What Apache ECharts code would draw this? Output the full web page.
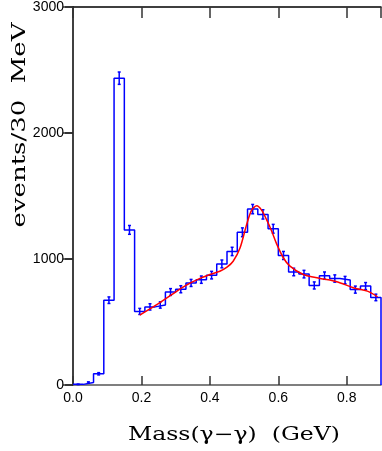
<!DOCTYPE html>
<html><head><meta charset="utf-8">
<script src="https://cdn.jsdelivr.net/npm/echarts@6/dist/echarts.min.js"></script>
<style>html,body{margin:0;padding:0;background:#fff}#c{width:382px;height:451px}</style>
</head><body><div id="c"></div>
<script>
// ---- data ----
const binWidth = 0.03;
const binLow = [0.00,0.03,0.06,0.09,0.12,0.15,0.18,0.21,0.24,0.27,0.30,0.33,0.36,0.39,0.42,0.45,0.48,0.51,0.54,0.57,0.60,0.63,0.66,0.69,0.72,0.75,0.78,0.81,0.84,0.87];
const counts = [5,20,89,673,2435,1231,584,620,635,738,760,810,836,872,961,1060,1212,1396,1354,1240,1028,897,880,790,868,845,833,757,785,695];
const errors = [2,5,9,26,49,35,24,25,25,27,28,28,29,30,31,33,35,37,37,35,32,30,30,28,29,29,29,28,28,26];
const fitX = [0.195,0.24,0.283,0.33,0.371,0.40,0.429,0.45,0.468,0.488,0.507,0.522,0.537,0.551,0.566,0.581,0.595,0.615,0.634,0.673,0.722,0.771,0.819,0.86,0.89];
const fitY = [555,630,707,790,846,877,903,935,982,1087,1270,1388,1422,1388,1310,1218,1120,1008,943,877,846,820,772,745,700];
const xTickLabels = ['0.0','0.2','0.4','0.6','0.8'];
const yTickLabels = ['0','1000','2000','3000'];
const xTitle = 'Mass(\u03b3\u2212\u03b3)  (GeV)';
const yTitle = 'events/30  MeV';

// ---- build ----
const xMax = binLow[binLow.length-1] + binWidth;
const histData = binLow.map((x,i)=>[x, counts[i]]);
histData.push([xMax, 0]);
const errData = binLow.map((x,i)=>[x + binWidth/2, counts[i], errors[i]]);
const fitData = fitX.map((x,i)=>[x, fitY[i]]);

const titleFont = '18px "DejaVu Serif", serif';
const mctx = document.createElement('canvas').getContext('2d');
mctx.font = titleFont;
const xTitleScale = 212 / mctx.measureText(xTitle).width;
const yTitleScale = 205 / mctx.measureText(yTitle).width;

const chart = echarts.init(document.getElementById('c'), null, {renderer:'canvas'});
const tickFont = {fontFamily:'Liberation Sans, Arial, sans-serif', fontSize:14, color:'#000'};
chart.setOption({
  animation:false,
  backgroundColor:'#fff',
  grid:{left:73, right:1, top:4, bottom:66},
  xAxis:[{
    type:'value', min:0, max:xMax, interval:0.2, position:'bottom',
    axisLine:{show:true, onZero:false, lineStyle:{color:'#555', width:1.5}},
    axisTick:{show:true, inside:true, length:9, lineStyle:{color:'#333', width:1.5}},
    axisLabel:Object.assign({margin:6, showMaxLabel:false,
      formatter:(v)=>{const i=Math.round(v/0.2); return Math.abs(v-i*0.2)<1e-6 && i<xTickLabels.length ? xTickLabels[i] : '';}}, tickFont),
    splitLine:{show:false}
  },{
    type:'value', min:0, max:xMax, interval:0.2, position:'top',
    axisLine:{show:true, onZero:false, lineStyle:{color:'#000', width:1.5}},
    axisTick:{show:true, inside:true, length:11, lineStyle:{color:'#333', width:1.5}},
    axisLabel:{show:false}, splitLine:{show:false}
  }],
  yAxis:[{
    type:'value', min:0, max:3000, interval:1000, position:'left',
    axisLine:{show:true, onZero:false, lineStyle:{color:'#000', width:1.5}},
    axisTick:{show:true, inside:false, length:8, lineStyle:{color:'#000', width:1.5}},
    axisLabel:Object.assign({margin:9, formatter:(v)=>yTickLabels[Math.round(v/1000)]}, tickFont),
    splitLine:{show:false}
  },{
    type:'value', min:0, max:3000, interval:1000, position:'right',
    axisLine:{show:false},
    axisTick:{show:true, inside:true, length:10, lineStyle:{color:'#333', width:1.5}},
    axisLabel:{show:false}, splitLine:{show:false}
  }],
  graphic:[{
    type:'text', x:20, y:125, rotation:Math.PI/2, scaleX:yTitleScale,
    style:{text:yTitle, font:titleFont, fill:'#000', align:'center', verticalAlign:'middle'}
  },{
    type:'text', x:234, y:435, scaleX:xTitleScale,
    style:{text:xTitle, font:titleFont, fill:'#000', align:'center', verticalAlign:'middle'}
  }],
  series:[{
    type:'line', data:histData, step:'end', symbol:'none',
    lineStyle:{color:'#0000ff', width:1.5}, z:3
  },{
    type:'custom', data:errData, z:4,
    renderItem:(params, api)=>{
      const x = api.value(0), y = api.value(1), e = api.value(2);
      const p1 = api.coord([x, y+e]), p2 = api.coord([x, y-e]);
      const st = {stroke:'#0000ff', lineWidth:1.5};
      return {type:'group', children:[
        {type:'line', shape:{x1:p1[0], y1:p1[1], x2:p2[0], y2:p2[1]}, style:st},
        {type:'line', shape:{x1:p1[0]-1.5, y1:p1[1], x2:p1[0]+1.5, y2:p1[1]}, style:st},
        {type:'line', shape:{x1:p2[0]-1.5, y1:p2[1], x2:p2[0]+1.5, y2:p2[1]}, style:st}
      ]};
    }
  },{
    type:'line', data:fitData, smooth:0.3, symbol:'none',
    lineStyle:{color:'#ff0000', width:1.5}, z:5
  }]
});
</script></body></html>
